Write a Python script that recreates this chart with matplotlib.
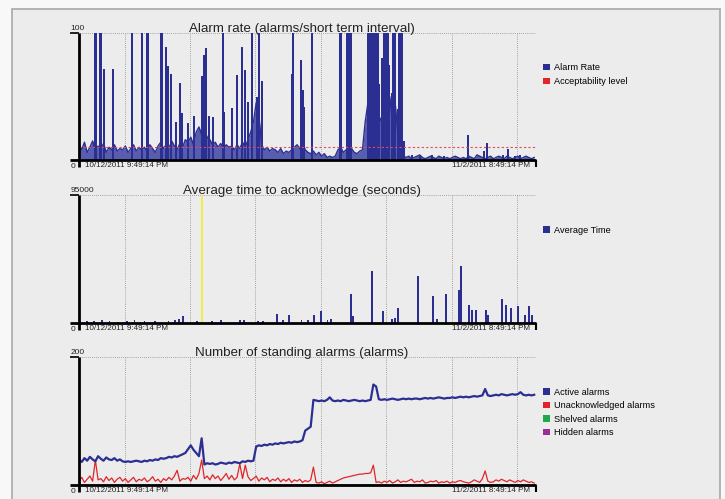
import numpy as np
import pandas as pd
import matplotlib
matplotlib.use("Agg")
import matplotlib.pyplot as plt
from matplotlib.patches import Rectangle, Patch

# Zeitachse
start = pd.Timestamp("2011-10-12 21:49:14")
end = pd.Timestamp("2011-11-02 20:49:14")
span_days = (end - start) / pd.Timedelta(days=1)
grid_days = [(d - start) / pd.Timedelta(days=1)
             for d in pd.date_range("2011-10-15", periods=7, freq="3D")]
start_label = "10/12/2011 9:49:14 PM"
end_label = "11/2/2011 8:49:14 PM"

# --- Alarm rate (Grundrauschen, 8 Werte pro Tag) ---
rate_base = [
    12, 8, 14, 6, 10, 15, 7, 11,
    9, 13, 6, 10, 8, 12, 7, 9,
    8, 11, 6, 9, 12, 7, 10, 8,
    10, 7, 12, 9, 6, 11, 14, 9,
    12, 9, 15, 11, 8, 13, 10, 16,
    14, 18, 12, 22, 26, 20, 24, 18,
    16, 12, 14, 10, 13, 9, 12, 10,
    11, 8, 12, 9, 14, 10, 16, 22,
    30, 45, 35, 12, 8, 10, 7, 9,
    8, 6, 9, 5, 7, 6, 8, 10,
    12, 9, 14, 8, 6, 5, 7, 4,
    6, 3, 5, 2, 3, 2, 3, 8,
    10, 6, 8, 4, 9, 6, 5, 7,
    8, 30, 45, 60, 40, 55, 35, 30,
    40, 25, 50, 30, 45, 20, 8, 3,
    2, 3, 1, 2, 3, 4, 2, 1,
    2, 3, 2, 1, 3, 2, 1, 2,
    1, 2, 3, 2, 1, 2, 1, 3,
    2, 1, 4, 3, 2, 1, 2, 3,
    1, 2, 3, 2, 1, 3, 2, 1,
    2, 3, 1, 2, 3, 2, 1, 2,
]
# Spitzen (Tag, Wert)
spike_days = [0.73, 0.80, 0.96, 1.03, 1.15, 1.56, 2.43, 2.89, 3.12, 3.19,
              3.76, 3.83, 3.99, 4.08, 4.22, 4.45, 4.63, 4.72, 5.00, 5.28,
              5.64, 5.73, 5.83, 5.96, 6.15, 6.61, 6.65, 7.02, 7.25, 7.48,
              7.61, 7.75, 7.94, 8.17, 8.26, 8.39, 9.77, 9.82, 10.18, 10.28,
              10.32, 10.69, 11.95, 12.00, 12.29, 12.36, 12.43, 12.50,
              13.26, 13.30, 13.35, 13.40, 13.45, 13.50, 13.55, 13.60, 13.65, 13.70,
              13.78, 13.88, 13.99, 14.05, 14.12, 14.17, 14.22, 14.36, 14.40, 14.46,
              14.52, 14.63, 14.68, 14.75, 14.82, 14.91,
              15.28, 15.64, 16.19, 16.74, 17.84, 18.58, 18.72, 19.45, 19.68, 20.0, 20.23]
spike_vals = [100, 100, 100, 100, 72, 72, 100, 100, 100, 100,
              100, 100, 89, 74, 68, 30, 61, 37, 29, 35,
              66, 83, 88, 35, 34, 100, 38, 41, 67, 89,
              71, 46, 100, 50, 100, 62, 68, 100, 79, 55,
              42, 100, 100, 100, 100, 100, 100, 100,
              100, 100, 100, 100, 100, 100, 100, 100, 100, 100,
              60, 80, 100, 100, 100, 100, 75, 53, 100, 100,
              100, 40, 100, 100, 100, 15,
              4, 3, 4, 3, 20, 7, 13, 4, 9, 3, 4]
accept_level = 10

# --- Average time to acknowledge (Tag, Sekunden) ---
avg_days = [0.35, 0.70, 1.05, 1.40, 1.80, 2.20, 2.55, 3.00, 3.50, 4.10, 4.40,
            4.60, 4.77, 5.40, 6.10, 6.50, 7.40, 7.55, 8.20, 8.45, 9.08, 9.35,
            9.63, 10.20, 10.50, 10.78, 11.10, 11.40, 11.55, 12.48, 12.57,
            13.44, 13.94, 14.36, 14.50, 14.63, 15.55, 16.24, 16.42, 16.83,
            17.43, 17.52, 17.89, 18.03, 18.21, 18.67, 18.76, 19.40, 19.59,
            19.82, 20.14, 20.46, 20.64, 20.78]
avg_vals = [1200, 1800, 2500, 1500, 1000, 1400, 2000, 1300, 1600, 1200, 2400,
            2600, 5000, 1500, 1200, 2000, 2000, 2200, 1500, 1600, 6500, 2400,
            6200, 2000, 2400, 5700, 9000, 2500, 3000, 21500, 5000,
            38800, 9000, 3000, 3500, 10800, 34900, 20000, 3200, 21300,
            24200, 42000, 13100, 9500, 9500, 10000, 6000, 18100, 13200,
            11300, 12300, 5700, 12300, 5700]
yellow_day = 5.64

# --- Number of standing alarms (8 Werte pro Tag) ---
active = [
    40, 36, 42, 38, 44, 40, 37, 45,
    41, 38, 43, 40, 39, 42, 38, 40,
    37, 36, 37, 36, 37, 38, 37, 36,
    38, 37, 39, 38, 40, 39, 42, 41,
    42, 44, 43, 45, 44, 46, 48, 50,
    56, 62, 55, 50, 45, 73, 32, 34,
    33, 34, 32, 33, 35, 34, 33, 35,
    34, 36, 35, 34, 37, 36, 38, 37,
    38, 60, 62, 61, 63, 62, 64, 63,
    65, 64, 66, 65, 66, 67, 66, 68,
    67, 68, 70, 85, 88, 91, 133, 132,
    131, 132, 131, 133, 137, 132, 131, 132,
    131, 133, 132, 131, 132, 133, 132, 131,
    132, 131, 132, 133, 157, 154, 134, 133,
    134, 133, 134, 135, 134, 133, 134, 135,
    134, 135, 134, 135, 135, 134, 135, 136,
    135, 136, 135, 136, 137, 136, 135, 136,
    136, 137, 136, 137, 138, 137, 138, 137,
    138, 139, 138, 139, 140, 150, 140, 139,
    140, 141, 140, 142, 141, 140, 141, 142,
    141, 142, 145, 141, 140, 141, 140, 141,
]
unack = [
    6, 12, 4, 9, 14, 6, 39, 8,
    10, 5, 13, 7, 11, 4, 9, 12,
    6, 10, 4, 8, 12, 5, 9, 7,
    11, 5, 8, 13, 6, 9, 4, 10,
    7, 12, 8, 14, 23, 6, 10, 9,
    12, 6, 15, 9, 18, 39, 10, 14,
    8, 16, 10, 14, 7, 12, 18, 9,
    15, 8, 12, 33, 10, 31, 13, 7,
    10, 14, 6, 11, 8, 12, 5, 9,
    7, 11, 5, 9, 6, 10, 4, 8,
    6, 9, 4, 7, 5, 8, 28, 4,
    3, 5, 2, 4, 6, 3, 5, 7,
    9, 11, 12, 13, 14, 15, 16, 17,
    17, 18, 18, 19, 31, 4, 5, 3,
    6, 4, 7, 3, 5, 8, 4, 6,
    5, 7, 9, 4, 6, 5, 8, 3,
    4, 6, 5, 7, 3, 5, 4, 6,
    3, 5, 4, 6, 7, 5, 4, 3,
    5, 8, 6, 4, 10, 22, 6, 4,
    5, 8, 6, 9, 7, 5, 8, 6,
    4, 7, 5, 8, 6, 4, 5, 3,
]
shelved = [0] * len(active)
hidden = [0] * len(active)
step_days = np.arange(len(active)) * 0.125

navy = "#2b2f91"
light = "#585db0"
red = "#e0262b"
green = "#1fa84f"
purple = "#9b2f9a"

fig = plt.figure(figsize=(7.25, 4.99), dpi=100, facecolor="#f8f8f8")
fig.patches.append(Rectangle((12 / 725, -0.01), 708 / 725, 1 - 9 / 499 + 0.01,
                             transform=fig.transFigure, facecolor="#ececec",
                             edgecolor="#a8a8a8", lw=1.2, zorder=-10))
font = ["Liberation Sans", "DejaVu Sans"]


def frame(ax, ymax, top_label, title):
    ax.set_xlim(0, span_days)
    ax.set_ylim(0, ymax)
    ax.set_facecolor("none")
    for s in ax.spines.values():
        s.set_visible(False)
    ax.set_xticks([])
    ax.set_yticks([])
    for g in grid_days:
        ax.axvline(g, color="#8a8a8a", ls=(0, (1, 1.5)), lw=0.6, zorder=0)
    ax.axhline(ymax, color="#8a8a8a", ls=(0, (1, 1.5)), lw=0.6, zorder=0)
    kw = dict(transform=ax.transAxes, color="black", clip_on=False,
              solid_capstyle="butt", zorder=5)
    ax.plot([0, 0], [-0.055, 1], lw=2, **kw)
    ax.plot([-0.02, 1], [0, 0], lw=2, **kw)
    ax.plot([-0.02, 0], [1, 1], lw=1.2, **kw)
    ax.plot([1, 1], [0, -0.055], lw=1.5, **kw)
    ax.text(-0.019, 1.008, top_label, transform=ax.transAxes, ha="left",
            va="bottom", fontsize=6, family=font, color="#222222")
    ax.text(-0.019, -0.02, "0", transform=ax.transAxes, ha="left",
            va="top", fontsize=6, family=font, color="#222222")
    ax.text(0.013, -0.012, start_label, transform=ax.transAxes, ha="left",
            va="top", fontsize=5.8, family=font, color="#222222")
    ax.text(0.987, -0.012, end_label, transform=ax.transAxes, ha="right",
            va="top", fontsize=5.8, family=font, color="#222222")
    ax.text(0.487, 1.004, title, transform=ax.transAxes, ha="center",
            va="baseline", fontsize=9.6, family=font, color="#222222")


def legend(ax, items):
    handles = [Patch(facecolor=c, edgecolor="none", label=l) for l, c in items]
    ax.legend(handles=handles, loc="upper left", bbox_to_anchor=(1.008, 0.79),
              frameon=False, handlelength=0.7, handleheight=0.7,
              handletextpad=0.45, labelspacing=0.5, borderaxespad=0,
              prop={"family": font, "size": 6.6})


# Panel 1
ax1 = fig.add_axes([79 / 725, 1 - 160 / 499, 457 / 725, 127 / 499])
frame(ax1, 100, "100", "Alarm rate (alarms/short term interval)")
ax1.fill_between(step_days, rate_base, color=light, lw=0, zorder=1)
ax1.plot(step_days, rate_base, color=navy, lw=1.0, zorder=2)
ax1.bar(spike_days, spike_vals, width=0.08, color=navy, lw=0, zorder=3)
ax1.axhline(accept_level, color="#e64660", ls=(0, (2, 2)), lw=0.8, zorder=4)
legend(ax1, [("Alarm Rate", navy), ("Acceptability level", red)])

# Panel 2
ax2 = fig.add_axes([79 / 725, 1 - 323 / 499, 457 / 725, 128 / 499])
frame(ax2, 95000, "95000", "Average time to acknowledge (seconds)")
ax2.bar(avg_days, avg_vals, width=0.08, color=navy, lw=0, zorder=3)
ax2.axvline(yellow_day, color="#f2ee2a", lw=1.2, zorder=2)
legend(ax2, [("Average Time", navy)])

# Panel 3
ax3 = fig.add_axes([79 / 725, 1 - 485 / 499, 457 / 725, 128 / 499])
frame(ax3, 200, "200", "Number of standing alarms (alarms)")
ax3.plot(step_days, hidden, color=purple, lw=1, zorder=2)
ax3.plot(step_days, shelved, color=green, lw=1, zorder=2)
ax3.plot(step_days, unack, color=red, lw=0.9, zorder=3)
ax3.plot(step_days, active, color=navy, lw=1.6, zorder=4)
legend(ax3, [("Active alarms", navy), ("Unacknowledged alarms", red),
             ("Shelved alarms", green), ("Hidden alarms", purple)])

fig.savefig("out.png", dpi=100, facecolor=fig.get_facecolor())
